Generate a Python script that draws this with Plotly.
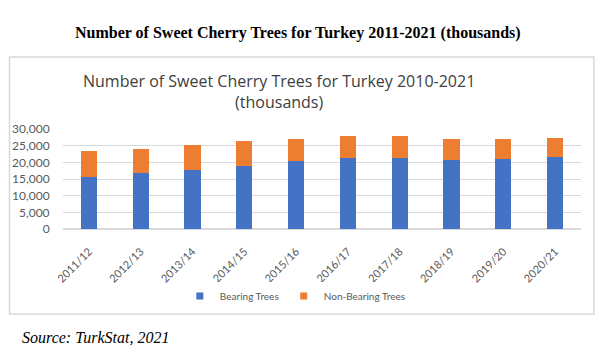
import plotly.graph_objects as go

seasons = ["2011/12", "2012/13", "2013/14", "2014/15", "2015/16",
           "2016/17", "2017/18", "2018/19", "2019/20", "2020/21"]
bearing = [15700, 16900, 17800, 19000, 20500, 21200, 21400, 20700, 20900, 21700]
non_bearing = [7600, 7200, 7300, 7300, 6600, 6600, 6600, 6200, 6100, 5700]
series_names = ["Bearing Trees", "Non-Bearing Trees"]
series_colors = ["#4472C4", "#ED7D31"]

fig = go.Figure()
for vals, name, col in zip([bearing, non_bearing], series_names, series_colors):
    fig.add_trace(go.Bar(x=seasons, y=vals, name=name, showlegend=False,
                         marker=dict(color=col, line=dict(width=0))))
# compact legend entries with small square swatches
for name, col in zip(series_names, series_colors):
    fig.add_trace(go.Scatter(x=[None], y=[None], mode="markers", name=name,
                             marker=dict(symbol="square", size=7, color=col)))

fig.update_layout(
    width=600, height=363,
    barmode="stack", bargap=0.69,
    margin=dict(l=58, r=19, t=129, b=134),
    paper_bgcolor="white", plot_bgcolor="white",
    font=dict(family="Lato, sans-serif", color="#595959", size=11),
    showlegend=True,
    legend=dict(orientation="h", x=(176 - 58) / 523, xanchor="left", y=-0.67, yanchor="middle",
                font=dict(size=10, color="#595959"), itemwidth=30,
                traceorder="normal"),
    xaxis=dict(tickangle=-45, showgrid=False, showline=False, ticks="outside",
               ticklen=11, tickcolor="rgba(0,0,0,0)",
               tickfont=dict(size=11, color="#595959")),
    yaxis=dict(range=[0, 30000], dtick=5000, tickformat=",", showgrid=True,
               gridcolor="#d9d9d9", gridwidth=1, zeroline=True, zerolinecolor="#d9d9d9",
               showline=False, ticks="outside", ticklen=10, tickcolor="rgba(0,0,0,0)",
               tickfont=dict(size=12, color="#595959")),
    shapes=[dict(type="rect", xref="paper", yref="paper",
                 x0=(4 - 58) / 523, x1=(594 - 58) / 523,
                 y0=(229 - 314) / 100, y1=(229 - 57) / 100,
                 line=dict(color="#d9d9d9", width=1.5), fillcolor="rgba(0,0,0,0)",
                 layer="below")],
    annotations=[
        dict(text="<b>Number of Sweet Cherry Trees for Turkey 2011-2021 (thousands)</b>",
             xref="paper", yref="paper", x=(295 - 58) / 523, y=(229 - 33) / 100,
             xanchor="center", yanchor="middle", showarrow=False,
             font=dict(family="Liberation Serif, Times New Roman, serif", size=16, color="black")),
        dict(text="Number of Sweet Cherry Trees for Turkey 2010-2021<br>(thousands)",
             xref="paper", yref="paper", x=(276 - 58) / 523, y=(229 - 91) / 100,
             xanchor="center", yanchor="middle", showarrow=False, align="center",
             font=dict(family="Open Sans, sans-serif", size=16, color="#404040")),
        dict(text="<i>Source: TurkStat, 2021</i>",
             xref="paper", yref="paper", x=(15 - 58) / 523, y=(229 - 337) / 100,
             xanchor="left", yanchor="middle", showarrow=False,
             font=dict(family="Liberation Serif, Times New Roman, serif", size=16, color="black")),
    ],
)

fig.write_html("out.html", config={"displayModeBar": False},
               post_script="document.body.style.margin='0';")
